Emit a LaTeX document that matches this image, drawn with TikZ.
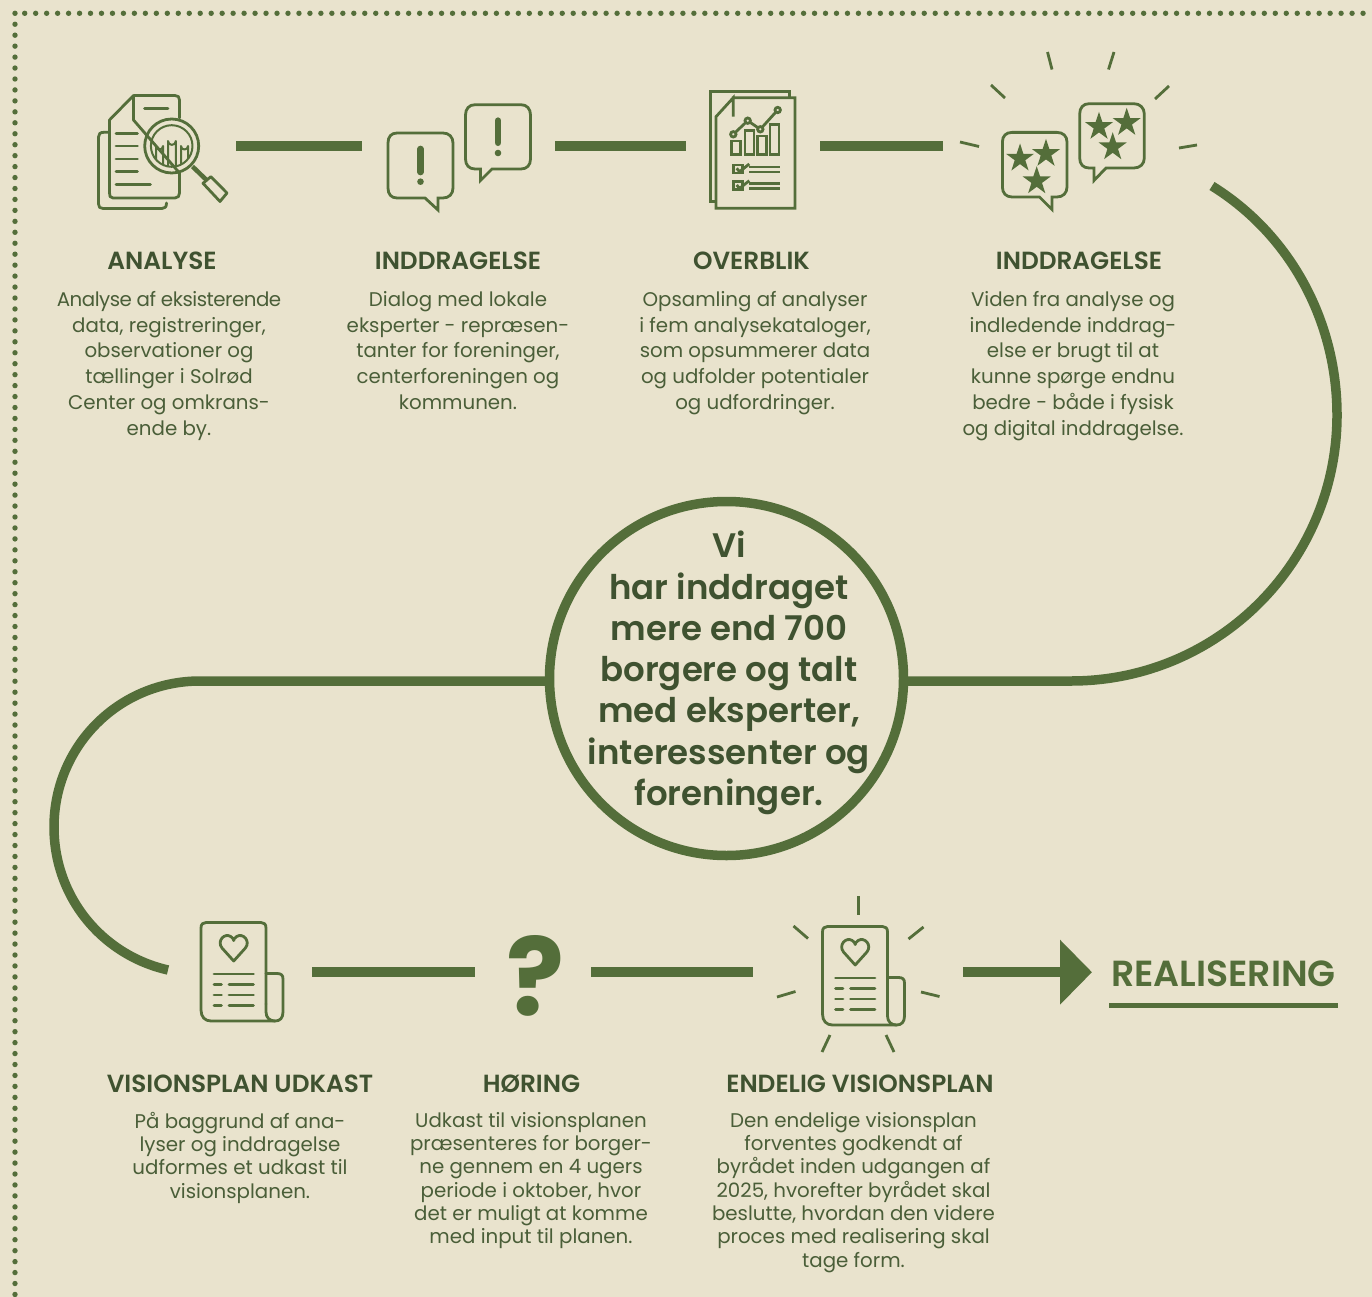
\documentclass[tikz,border=0pt]{standalone}
\usepackage{fontspec}
\setmainfont{Poppins}
\newfontfamily\medf{Poppins Medium}
\newfontfamily\semif{Poppins SemiBold}
\usetikzlibrary{arrows.meta,calc}
\definecolor{bg}{HTML}{E9E3CD}
\definecolor{grn}{HTML}{546E3A}
\definecolor{txt}{HTML}{3F5230}
\definecolor{txtb}{HTML}{4A5E38}
\tikzset{
  x=1pt,y=-1pt,
  icon/.style={draw=grn,line width=2.8pt,line join=round,line cap=round,fill=none},
  ray/.style={draw=grn,line width=2.8pt},
  bar/.style={draw=grn,line width=10.5pt},
  path/.style={draw=grn,line width=9.5pt},
  slot/.style={minimum height=60pt,inner sep=0pt,outer sep=0pt},
  title/.style={font=\fontsize{24.8}{28}\semif,text=txt,inner sep=0pt},
  body/.style={font=\fontsize{19.8}{25.8}\selectfont,text=txtb,align=center,inner sep=0pt,anchor=north},
  bodyb/.style={font=\fontsize{19.8}{23.3}\selectfont,text=txtb,align=center,inner sep=0pt,anchor=north},
}
\newcommand{\staricon}[2]{\fill[grn] (#1,#2) ++(0,-14.5) -- ++(3.4,10.3) -- ++(10.6,0) -- ++(-8.7,6.4) -- ++(3.3,10.3) -- ++(-8.6,-6.4) -- ++(-8.6,6.4) -- ++(3.3,-10.3) -- ++(-8.7,-6.4) -- ++(10.6,0) -- cycle;}
\newcommand{\planicon}{%
\draw (266,1004) -- (266,928) .. controls (266,924) and (264,922.5) .. (261,922.5) -- (206,922.5) .. controls (203,922.5) and (201,924) .. (201,928) -- (201,1010) .. controls (201,1017) and (205,1021) .. (211,1021) -- (275,1021);
\draw (266,973.5) -- (277,973.5) .. controls (281,973.5) and (283,975) .. (283,979) -- (283,1012) .. controls (283,1018) and (280,1021) .. (275,1021) .. controls (270,1021) and (266,1018) .. (266,1012) -- (266,1004);
\draw (233.7,961) -- (222,948) .. controls (216.5,941) and (224.5,932.5) .. (230.7,936.5) .. controls (232.7,937.5) and (233.7,939.5) .. (233.7,940.5) .. controls (233.7,939.5) and (234.7,937.5) .. (236.7,936.5) .. controls (242.9,932.5) and (250.9,941) .. (245.4,948) -- cycle;
\draw (214,974) -- (253.5,974);
\draw (214,984.5) -- (221.5,984.5);\draw (229,984.5) -- (253.5,984.5);
\draw (214,995) -- (221.5,995);\draw (229,995) -- (253.5,995);
\draw (214,1005.5) -- (221.5,1005.5);\draw (229,1005.5) -- (253.5,1005.5);}
\begin{document}
\begin{tikzpicture}
\useasboundingbox (0,0) rectangle (1372,1297);
\fill[bg] (0,0) rectangle (1372,1297);
% dotted frame
\draw[grn,line width=5.4pt,line cap=round,dash pattern=on 0pt off 10.95pt] (15,13.3) -- (15,1297);
\draw[grn,line width=5.4pt,line cap=round,dash pattern=on 0pt off 10.97pt] (24.7,13.3) -- (1372,13.3);

% slots for connectors
\node[slot,minimum width=138pt] (analyseicon) at (167,145.8) {};
\node[slot,minimum width=193pt] (dialogicon) at (458.5,145.8) {};
\node[slot,minimum width=134pt] (overblikicon) at (753,145.8) {};
\node[slot,minimum width=257pt] (starsicon) at (1071.5,145.8) {};
\node[slot,minimum width=144pt] (udkasticon) at (240,972.2) {};
\node[slot,minimum width=116pt] (hoeringicon) at (533,972.2) {};
\node[slot,minimum width=210pt] (endeligicon) at (858,972.2) {};
\coordinate (tip) at (1092,972.2);
\coordinate (curveA) at (1212,186);
\coordinate (curveB) at (168,970);

\draw[bar] (analyseicon.east) -- (dialogicon.west);
\draw[bar] (dialogicon.east) -- (overblikicon.west);
\draw[bar] (overblikicon.east) -- (starsicon.west);
\draw[bar] (udkasticon.east) -- (hoeringicon.west);
\draw[bar] (hoeringicon.east) -- (endeligicon.west);
\draw[bar,-{Triangle[length=32pt,width=63pt]}] (endeligicon.east) -- (tip);

% central circle
\node[circle,draw=grn,line width=9.5pt,minimum size=354pt,inner sep=0pt,outer sep=0pt] (hub) at (726.5,678.5) {};
\node[font=\fontsize{34}{41.3}\semif,text=txt,align=center,inner sep=0pt] (hubtext) at (729,673) {Vi\\har inddraget\\mere end 700\\borgere og talt\\med eksperter,\\interessenter og\\foreninger.};

% long curves
\draw[path] (curveA) .. controls (1291,235) and (1337,322) .. (1337,415) .. controls (1337,562) and (1218,681) .. (1071,681) -- ($(hub.center)+(177,2.5)$);
\draw[path] ($(hub.center)+(-177,2.5)$) -- (200,681) .. controls (119,681) and (54,746) .. (54,827) .. controls (54,897) and (102,955) .. (curveB);

% ANALYSE icon
\begin{scope}[icon]
\draw (108,132.3) -- (104,132.3) .. controls (100,132.3) and (98.5,134) .. (98.5,137) -- (98.5,204) .. controls (98.5,207) and (100,208.5) .. (103,208.5) -- (162,208.5) .. controls (165,208.5) and (166.5,207) .. (166.5,203);
\draw (134,95.5) -- (175,95.5) .. controls (178,95.5) and (179.5,97) .. (179.5,100) -- (179.5,118);
\draw (179.5,173) -- (179.5,193) .. controls (179.5,196) and (178,198) .. (175,198) -- (113,198) .. controls (110,198) and (109.5,196) .. (109.5,193) -- (109.5,120) -- (133.5,95.5) -- (133.5,120) -- cycle;
\draw (144.5,108.3) -- (168,108.3);
\draw (116,133.3) -- (137.5,133.3);
\draw (116,146) -- (137.5,146);
\draw (116,159) -- (137.5,159);
\draw (116,171.7) -- (137.5,171.7);
\draw (116,184.7) -- (150.5,184.7);
\draw (171.7,146) circle[radius=27];
\draw[line width=2pt] (171.7,146) circle[radius=20.8];
\begin{scope}
\clip (171.7,146) circle[radius=20.8];
\draw[line width=2pt] (156,175) -- (156,146) arc[start angle=180,end angle=0,radius=3.5] -- (163,175);
\draw[line width=2pt] (168,175) -- (168,141) arc[start angle=180,end angle=0,radius=3.9] -- (175.8,175);
\draw[line width=2pt] (181,175) -- (181,146) arc[start angle=180,end angle=0,radius=3.5] -- (188,175);
\end{scope}
\draw[line width=4.5pt,line cap=butt] (192.5,166.5) -- (207,180.5);
\draw (203,183.3) -- (210.8,176.7) -- (227,193) -- (220,201.5) -- cycle;
\end{scope}

% DIALOG icon
\begin{scope}[icon,line join=miter]
\draw (397,133) -- (443,133) .. controls (449,133) and (453,137) .. (453,143) -- (453,188) .. controls (453,194) and (449,198) .. (443,198) -- (438,198) -- (438,210) -- (425,198) -- (397,198) .. controls (391,198) and (388,194) .. (388,188) -- (388,143) .. controls (388,137) and (391,133) .. (397,133) -- cycle;
\draw (475,104.7) -- (521,104.7) .. controls (527,104.7) and (530.5,109) .. (530.5,115) -- (530.5,159) .. controls (530.5,165) and (527,169) .. (521,169) -- (492,169) -- (480.5,180.5) -- (480.5,169) -- (475,169) .. controls (469,169) and (465.5,165) .. (465.5,159) -- (465.5,115) .. controls (465.5,109) and (469,104.7) .. (475,104.7) -- cycle;
\draw[line width=6.7pt,line cap=round] (420.5,149) -- (420.5,172);
\draw[line width=6.7pt,line cap=round] (498,120.7) -- (498,142.7);
\end{scope}
\fill[grn] (420.5,181.7) circle[radius=3.3];
\fill[grn] (498,153) circle[radius=3.3];

% OVERBLIK icon
\begin{scope}[icon,line cap=butt,line join=miter]
\draw (716,201.7) -- (710.7,201.7) -- (710.7,91.7) -- (789.3,91.7) -- (789.3,97.7);
\draw (733.3,97.7) -- (795,97.7) -- (795,208.3) -- (716,208.3) -- (716,116.7) -- (733.3,97.7) -- (733.3,116.7) -- cycle;
\draw (731.7,141) rectangle (740.7,154.3);
\draw (745,130.7) rectangle (754,154.3);
\draw (757.3,136) rectangle (766.3,154.3);
\draw (770,124.3) rectangle (779,154.3);
\draw (733.3,134.3) -- (747.7,120.7) -- (760.3,129.3) -- (777.7,110);
\draw[fill=bg] (733.3,134.3) circle[radius=2.7];
\draw[fill=bg] (747.7,120.7) circle[radius=2.7];
\draw[fill=bg] (760.3,129.3) circle[radius=2.7];
\draw[fill=bg] (777.7,110) circle[radius=2.7];
\draw (733.8,165) rectangle (742.8,173);
\draw (733.8,181.7) rectangle (742.8,189.7);
\draw (736.7,168.3) -- (739.5,171.7) -- (749.3,164);
\draw (736.7,185) -- (739.5,188.4) -- (749.3,180.7);
\draw (749,167) -- (780,167);
\draw (749,172) -- (780,172);
\draw (749,183.7) -- (780,183.7);
\draw (749,188.7) -- (780,188.7);
\end{scope}

% STARS icon
\begin{scope}[icon,line join=miter]
\draw (1012,132.4) -- (1057,132.4) .. controls (1063,132.4) and (1067,136) .. (1067,142) -- (1067,187) .. controls (1067,193) and (1063,197) .. (1057,197) -- (1052,197) -- (1052,209.5) -- (1039.5,197) -- (1012,197) .. controls (1006,197) and (1002.4,193) .. (1002.4,187) -- (1002.4,142) .. controls (1002.4,136) and (1006,132.4) .. (1012,132.4) -- cycle;
\draw (1089,103.7) -- (1134,103.7) .. controls (1140,103.7) and (1144.3,108) .. (1144.3,114) -- (1144.3,158) .. controls (1144.3,164) and (1140,168) .. (1134,168) -- (1106,168) -- (1094,180.5) -- (1094,168) -- (1089,168) .. controls (1083,168) and (1079.7,164) .. (1079.7,158) -- (1079.7,114) .. controls (1079.7,108) and (1083,103.7) .. (1089,103.7) -- cycle;
\end{scope}
\staricon{1020}{158}\staricon{1046}{153.3}\staricon{1036.7}{180.7}
\staricon{1099}{126.3}\staricon{1126.7}{122.3}\staricon{1112.7}{146.7}
\draw[ray] (991,85) -- (1005,98);
\draw[ray] (1047.5,52) -- (1052,69.5);
\draw[ray] (1114,52) -- (1108.5,69.5);
\draw[ray] (1169,86) -- (1155,99);
\draw[ray] (960,142) -- (979,146.5);
\draw[ray] (1179,148) -- (1197,145);

% VISIONSPLAN icon
\begin{scope}[icon]
\planicon
\end{scope}

% Question mark
\node[font=\fontsize{108}{108}\selectfont\bfseries,text=grn,inner sep=0pt] (qmark) at (536,976) {?};

% ENDELIG icon
\begin{scope}[icon,shift={(621.5,4)}]
\planicon
\end{scope}
\draw[ray] (858.5,896) -- (858.5,915);
\draw[ray] (793.5,926) -- (808,938.5);
\draw[ray] (923.5,927) -- (908.5,939);
\draw[ray] (777,997) -- (795.5,991.5);
\draw[ray] (921,992) -- (939.5,996.5);
\draw[ray] (822,1052) -- (830,1035);
\draw[ray] (894,1052) -- (886,1035);

% REALISERING
\node[font=\fontsize{36.3}{40}\semif,text=grn,inner sep=0pt] (real) at (1223.5,973.5) {REALISERING};
\coordinate (ulA) at (1109,1005);
\coordinate (ulB) at (1338,1005);
\draw[grn,line width=5pt] (ulA) -- (ulB);

% titles
\node[title] (t1) at (162,261.3) {ANALYSE};
\node[title] (t2) at (458,261.3) {INDDRAGELSE};
\node[title] (t3) at (751.5,261.3) {OVERBLIK};
\node[title] (t4) at (1079,261.3) {INDDRAGELSE};
\node[title] (t5) at (240,1083.3) {VISIONSPLAN UDKAST};
\node[title] (t6) at (531.5,1083.3) {HØRING};
\node[title] (t7) at (860,1083.3) {ENDELIG VISIONSPLAN};

% bodies
\node[body] (b1) at (169,291) {{\addfontfeature{LetterSpace=-2.4}Analyse af eksisterende}\\data, registreringer,\\observationer og\\tællinger i Solrød\\Center og omkrans-\\ende by.};
\node[body] (b2) at (458,291) {Dialog med lokale\\eksperter - repræsen-\\tanter for foreninger,\\centerforeningen og\\kommunen.};
\node[body] (b3) at (755,291) {Opsamling af analyser\\i fem analysekataloger,\\som opsummerer data\\og udfolder potentialer\\og udfordringer.};
\node[body] (b4) at (1073,291) {Viden fra analyse og\\indledende inddrag-\\else er brugt til at\\kunne spørge endnu\\bedre - både i fysisk\\og digital inddragelse.};
\node[bodyb] (b5) at (240,1112) {På baggrund af ana-\\lyser og inddragelse\\udformes et udkast til\\visionsplanen.};
\node[bodyb] (b6) at (531,1112) {Udkast til visionsplanen\\præsenteres for borger-\\ne gennem en 4 ugers\\periode i oktober, hvor\\det er muligt at komme\\med input til planen.};
\node[bodyb] (b7) at (853.5,1112) {Den endelige visionsplan\\forventes godkendt af\\byrådet inden udgangen af\\2025, hvorefter byrådet skal\\beslutte, hvordan den videre\\proces med realisering skal\\tage form.};
\end{tikzpicture}
\end{document}
